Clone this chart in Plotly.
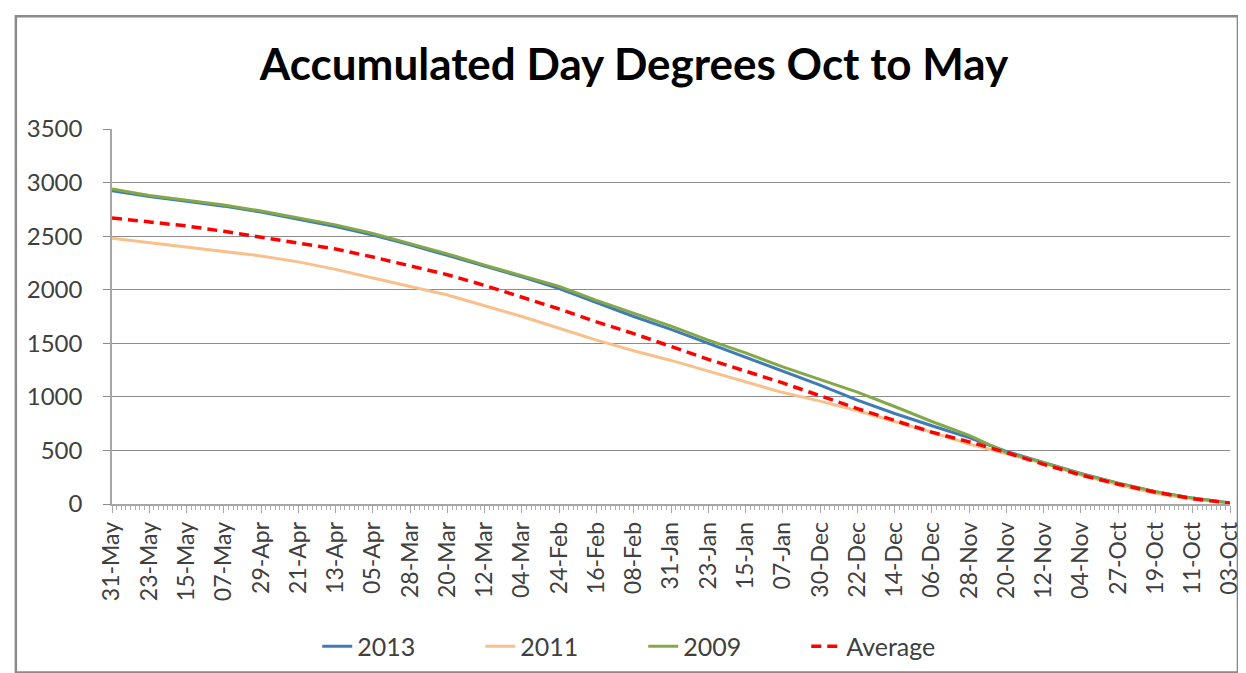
import plotly.graph_objects as go

# Category dates (every 8 days, 31-May back to 03-Oct)
dates = ["2013-05-31", "2013-05-23", "2013-05-15", "2013-05-07", "2013-04-29", "2013-04-21",
         "2013-04-13", "2013-04-05", "2013-03-28", "2013-03-20", "2013-03-12", "2013-03-04",
         "2013-02-24", "2013-02-16", "2013-02-08", "2013-01-31", "2013-01-23", "2013-01-15",
         "2013-01-07", "2012-12-30", "2012-12-22", "2012-12-14", "2012-12-06", "2012-11-28",
         "2012-11-20", "2012-11-12", "2012-11-04", "2012-10-27", "2012-10-19", "2012-10-11",
         "2012-10-03"]
tick_labels = ["31-May", "23-May", "15-May", "07-May", "29-Apr", "21-Apr", "13-Apr", "05-Apr",
               "28-Mar", "20-Mar", "12-Mar", "04-Mar", "24-Feb", "16-Feb", "08-Feb", "31-Jan",
               "23-Jan", "15-Jan", "07-Jan", "30-Dec", "22-Dec", "14-Dec", "06-Dec", "28-Nov",
               "20-Nov", "12-Nov", "04-Nov", "27-Oct", "19-Oct", "11-Oct", "03-Oct"]

y2013 = [2925, 2870, 2825, 2780, 2725, 2660, 2590, 2510, 2420, 2320, 2220, 2120, 2010, 1880,
         1750, 1630, 1500, 1370, 1240, 1110, 970, 845, 730, 620, 490, 390, 285, 195, 115, 55, 10]
y2011 = [2480, 2440, 2400, 2360, 2315, 2260, 2190, 2110, 2030, 1950, 1850, 1750, 1640, 1530,
         1430, 1340, 1240, 1140, 1040, 960, 870, 770, 670, 560, 470, 380, 270, 180, 100, 45, 8]
y2009 = [2940, 2880, 2835, 2790, 2735, 2670, 2605, 2525, 2430, 2335, 2230, 2130, 2030, 1900,
         1780, 1660, 1530, 1410, 1280, 1165, 1045, 910, 770, 640, 480, 385, 280, 195, 115, 55, 10]
y_avg = [2670, 2630, 2595, 2545, 2490, 2440, 2380, 2305, 2225, 2140, 2040, 1930, 1820, 1700,
         1590, 1470, 1350, 1240, 1130, 1010, 890, 780, 670, 580, 480, 370, 270, 185, 110, 50, 8]

W, H = 1246, 673
L, R, T, B = 104, 14, 121, 176
pw, ph = W - L - R, H - T - B

FONT = "Lato, 'Open Sans', sans-serif"

fig = go.Figure()
fig.add_trace(go.Scatter(x=dates, y=y2013, name="2013", mode="lines",
                         line=dict(color="#3f7bb6", width=3)))
fig.add_trace(go.Scatter(x=dates, y=y2011, name="2011", mode="lines",
                         line=dict(color="#f7c08c", width=3)))
fig.add_trace(go.Scatter(x=dates, y=y2009, name="2009", mode="lines",
                         line=dict(color="#84a847", width=3)))
fig.add_trace(go.Scatter(x=dates, y=y_avg, name="Average", mode="lines",
                         line=dict(color="#ff0000", width=3.5, dash="10px,6px")))

def px_x(p):
    return (p - L) / pw

def px_y(p):
    return (H - B - p) / ph

fig.update_layout(
    width=W, height=H,
    margin=dict(l=L, r=R, t=T, b=B),
    paper_bgcolor="white", plot_bgcolor="white",
    title=dict(text="<b>Accumulated Day Degrees Oct to May</b>",
               font=dict(family=FONT, size=44, color="#000000"),
               x=(626) / W, xanchor="center", y=1 - 57 / H, yanchor="middle"),
    font=dict(family=FONT, size=23, color="#404040"),
    showlegend=True,
    legend=dict(orientation="h", x=px_x(640), xanchor="center",
                y=px_y(640), yanchor="middle",
                font=dict(family=FONT, size=25, color="#404040"),
                entrywidth=118, bgcolor="rgba(0,0,0,0)"),
    xaxis=dict(type="date", range=["2013-05-31", "2012-10-03"],
               tickvals=dates, ticktext=tick_labels, tickangle=-90,
               tickfont=dict(family=FONT, size=23, color="#404040"),
               showgrid=False, showline=True, linecolor="#a6a6a6", linewidth=1.5,
               ticks="outside", ticklen=7, tickcolor="#a6a6a6",
               minor=dict(dtick=86400000, tick0="2012-10-03", ticks="outside",
                          ticklen=4, tickcolor="#b0b0b0", showgrid=False),
               zeroline=False),
    yaxis=dict(range=[0, 3500], dtick=500, tickformat="d",
               tickfont=dict(family=FONT, size=24, color="#404040"),
               ticklabelstandoff=16,
               showgrid=True, gridcolor="#8c8c8c", gridwidth=1,
               showline=True, linecolor="#a6a6a6", linewidth=1.5,
               ticks="outside", ticklen=7, tickcolor="#8c8c8c",
               zeroline=False),
    shapes=[dict(type="rect", xref="paper", yref="paper",
                 x0=px_x(7), x1=px_x(1240), y0=px_y(666), y1=px_y(8),
                 line=dict(color="#8a8a8a", width=2.5), layer="below")],
)

fig.write_html("out.html")
